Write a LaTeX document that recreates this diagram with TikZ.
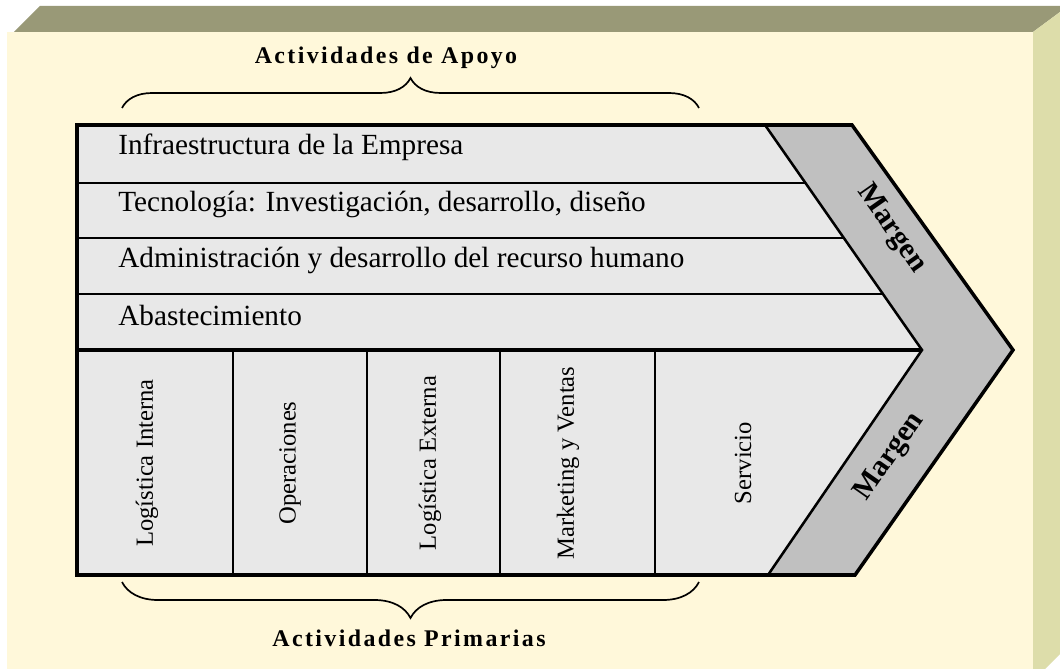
\documentclass[tikz,border=0pt]{standalone}
\usepackage{fontspec}
\setmainfont{Liberation Serif}
\usetikzlibrary{decorations.pathreplacing}

\begin{document}
\begin{tikzpicture}[x=0.025cm, y=-0.025cm]
	% Colours of the frame and of the chain
	\definecolor{frametop}{HTML}{999977}
	\definecolor{frameside}{HTML}{DDDDAA}
	\definecolor{parchment}{HTML}{FFF8DA}
	\definecolor{boxgray}{HTML}{E8E8E8}
	\definecolor{margingray}{HTML}{C0C0C0}
	
	% Text and brace styles
	\tikzset{
		rowtext/.style={anchor=base west, inner sep=0pt, font=\fontsize{20.8}{24}\selectfont},
		coltext/.style={rotate=90, inner sep=0pt, font=\fontsize{17.5}{20}\selectfont},
		margentext/.style={inner sep=0pt, font=\bfseries\fontsize{21}{24}\selectfont},
		titletext/.style={inner sep=0pt, font=\bfseries\fontsize{17}{20}\selectfont\addfontfeature{LetterSpace=10}},
		curlybrace/.style={decorate, decoration={brace, amplitude=#1}, line width=1.2pt}
	}
	
	\useasboundingbox (0, 0) rectangle (1060, 669);
	
	% Draw the bevelled frame
	\fill[parchment] (7, 32) rectangle (1033, 669);
	\fill[frametop] (14, 32) -- (40, 6) -- (1060, 6) -- (1060, 12) -- (1033, 32) -- cycle;
	\fill[frameside] (1033, 32) -- (1060, 12) -- (1060, 654) -- (1045, 669) -- (1033, 669) -- cycle;
	
	% Fill the chain body and the margin band
	\fill[boxgray] (77, 125) -- (765, 125) -- (922, 350) -- (768, 575) -- (77, 575) -- cycle;
	\fill[margingray] (765, 125) -- (852, 125) -- (1013, 350) -- (855, 575) -- (768, 575) -- (922, 350) -- cycle;
	
	% Support rows
	\draw[line width=1.4pt] (77, 183) -- (805, 183);
	\draw[line width=1.4pt] (77, 238) -- (844, 238);
	\draw[line width=1.4pt] (77, 294) -- (883, 294);
	\draw[line width=2.5pt] (77, 350) -- (922, 350);
	
	% Primary columns
	\draw[line width=1.4pt] (233, 350) -- (233, 575);
	\draw[line width=1.4pt] (367, 350) -- (367, 575);
	\draw[line width=1.4pt] (500, 350) -- (500, 575);
	\draw[line width=1.4pt] (655, 350) -- (655, 575);
	
	% Inner edge of the margin and outer border
	\draw[line width=1.8pt] (765, 125) -- (922, 350) -- (768, 575);
	\draw[line width=2.5pt, line join=miter] (77, 125) -- (852, 125) -- (1013, 350) -- (855, 575) -- (77, 575) -- cycle;
	
	% Row labels
	\node[rowtext] (infra) at (118, 155) {Infraestructura de la Empresa};
	\node[rowtext] (tecno) at (118, 212) {Tecnología: Investigación, desarrollo, diseño};
	\node[rowtext] (rrhh) at (118, 268) {Administración y desarrollo del recurso humano};
	\node[rowtext] (abast) at (118, 326) {Abastecimiento};
	
	% Column labels
	\node[coltext] (login) at (147, 463) {Logística Interna};
	\node[coltext] (oper) at (290, 463) {Operaciones};
	\node[coltext] (logex) at (430, 463) {Logística Externa};
	\node[coltext] (mkt) at (568, 463) {Marketing y Ventas};
	\node[coltext] (serv) at (743, 463) {Servicio};
	
	% Margin labels
	\node[margentext, rotate=-55] (margtop) at (891, 229) {Margen};
	\node[margentext, rotate=55] (margbot) at (890, 457) {Margen};
	
	% Braces and titles
	\draw[curlybrace=0.75cm] (122, 108) -- (699, 108);
	\node[titletext] (apoyo) at (386, 58) {Actividades de Apoyo};
	\draw[curlybrace=0.9cm] (699, 582) -- (122, 582);
	\node[titletext] (prim) at (409, 638) {Actividades Primarias};
\end{tikzpicture}
\end{document}
